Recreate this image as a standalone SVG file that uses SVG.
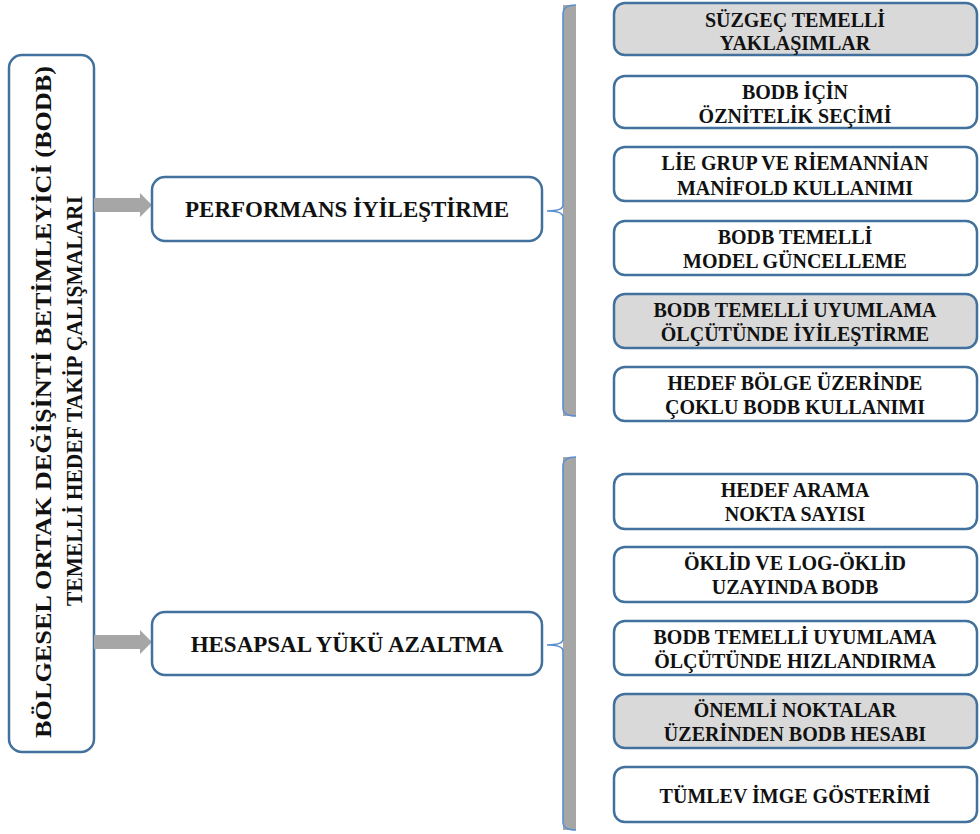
<svg xmlns="http://www.w3.org/2000/svg" width="980" height="834" viewBox="0 0 980 834">
<style>
.box{fill:#ffffff;stroke:#41719c;stroke-width:2.5}
.gbox{fill:#d9d9d9;stroke:#41719c;stroke-width:2.5}
.t{font-family:'Liberation Serif','DejaVu Serif',serif;font-weight:bold;fill:#111;text-anchor:middle}
.s{font-size:20px}
.m{font-size:23px}
.arrow{fill:#a6a6a6}
.brk{fill:#a6a6a6}
.bl{fill:none;stroke:#5b8fd0;stroke-width:1.6}
</style>
<rect width="980" height="834" fill="#ffffff"/>

<g id="root">
<rect class="box" x="9" y="55" width="85" height="697" rx="13"/>
<text class="t" font-family="Liberation Serif, serif" font-size="23" transform="translate(51,402) rotate(-90)" textLength="672" lengthAdjust="spacingAndGlyphs">BÖLGESEL ORTAK DEĞİŞİNTİ BETİMLEYİCİ (BODB)</text>
<text class="t" font-family="Liberation Serif, serif" font-size="23" transform="translate(82,401) rotate(-90)" textLength="410" lengthAdjust="spacingAndGlyphs">TEMELLİ HEDEF TAKİP ÇALIŞMALARI</text>
</g>

<g id="connectors">
<path class="arrow" d="M94,198 H140 V193 L152,205 L140,217 V212 H94 Z"/>
<path class="arrow" d="M94,635 H140 V630 L152,642 L140,654 V649 H94 Z"/>
<rect class="brk" x="563" y="5" width="13" height="411"/>
<path class="bl" d="M576,5 Q563,5 563,14 V205 Q563,211 547,211 Q563,211 563,217 V408 Q563,416 576,416"/>
<rect class="brk" x="563" y="457" width="13" height="373"/>
<path class="bl" d="M576,457 Q563,457 563,466 V639 Q563,645 547,645 Q563,645 563,651 V822 Q563,830 576,830"/>
</g>

<g id="perf">
<rect class="box" x="152" y="177" width="390" height="64" rx="13"/>
<text class="t m" x="347" y="217">PERFORMANS İYİLEŞTİRME</text>
</g>
<g id="hesap">
<rect class="box" x="152" y="612" width="390" height="63" rx="13"/>
<text class="t m" x="347" y="652">HESAPSAL YÜKÜ AZALTMA</text>
</g>

<g id="n1"><rect class="gbox" x="614" y="3" width="363" height="52" rx="11"/>
<text class="t s" x="795" y="27">SÜZGEÇ TEMELLİ</text><text class="t s" x="795" y="50">YAKLAŞIMLAR</text></g>
<g id="n2"><rect class="box" x="614" y="76" width="363" height="52" rx="11"/>
<text class="t s" x="795" y="99">BODB İÇİN</text><text class="t s" x="795" y="123">ÖZNİTELİK SEÇİMİ</text></g>
<g id="n3"><rect class="box" x="614" y="147" width="363" height="54" rx="11"/>
<text class="t s" x="795" y="170">LİE GRUP VE RİEMANNİAN</text><text class="t s" x="795" y="195">MANİFOLD KULLANIMI</text></g>
<g id="n4"><rect class="box" x="614" y="221" width="363" height="54" rx="11"/>
<text class="t s" x="795" y="244">BODB TEMELLİ</text><text class="t s" x="795" y="268">MODEL GÜNCELLEME</text></g>
<g id="n5"><rect class="gbox" x="614" y="294" width="363" height="54" rx="11"/>
<text class="t s" x="795" y="317">BODB TEMELLİ UYUMLAMA</text><text class="t s" x="795" y="341">ÖLÇÜTÜNDE İYİLEŞTİRME</text></g>
<g id="n6"><rect class="box" x="614" y="367" width="363" height="54" rx="11"/>
<text class="t s" x="795" y="390">HEDEF BÖLGE ÜZERİNDE</text><text class="t s" x="795" y="414">ÇOKLU BODB KULLANIMI</text></g>

<g id="n7"><rect class="box" x="614" y="474" width="363" height="55" rx="11"/>
<text class="t s" x="795" y="497">HEDEF ARAMA</text><text class="t s" x="795" y="521">NOKTA SAYISI</text></g>
<g id="n8"><rect class="box" x="614" y="547" width="363" height="55" rx="11"/>
<text class="t s" x="795" y="570">ÖKLİD VE LOG-ÖKLİD</text><text class="t s" x="795" y="594">UZAYINDA BODB</text></g>
<g id="n9"><rect class="box" x="614" y="621" width="363" height="54" rx="11"/>
<text class="t s" x="795" y="644">BODB TEMELLİ UYUMLAMA</text><text class="t s" x="795" y="668">ÖLÇÜTÜNDE HIZLANDIRMA</text></g>
<g id="n10"><rect class="gbox" x="614" y="694" width="363" height="54" rx="11"/>
<text class="t s" x="795" y="717">ÖNEMLİ NOKTALAR</text><text class="t s" x="795" y="741">ÜZERİNDEN BODB HESABI</text></g>
<g id="n11"><rect class="box" x="614" y="767" width="363" height="55" rx="11"/>
<text class="t s" x="795" y="803">TÜMLEV İMGE GÖSTERİMİ</text></g>
</svg>
